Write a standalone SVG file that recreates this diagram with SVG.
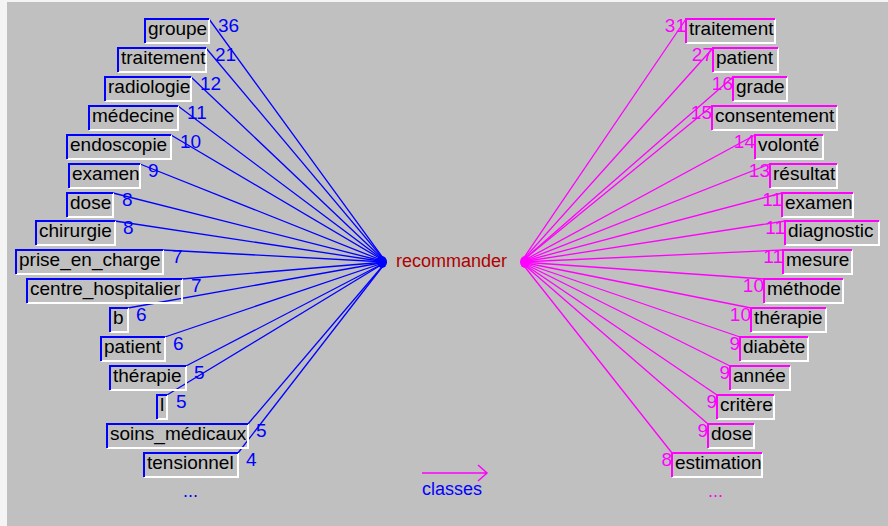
<svg xmlns="http://www.w3.org/2000/svg" width="888" height="526" viewBox="0 0 888 526">
<style>
.lbl{font-family:"Liberation Sans",Arial,sans-serif;font-size:19px;fill:#000}
.numL{font-family:"Liberation Sans",Arial,sans-serif;font-size:19px;fill:#0000ff}
.numR{font-family:"Liberation Sans",Arial,sans-serif;font-size:19px;fill:#ff00ff;text-anchor:end}
.hi{fill:none;stroke:#ffffff;stroke-width:2}
.bl{fill:none;stroke:#0000ff;stroke-width:2}
.mg{fill:none;stroke:#ff00ff;stroke-width:2}
.cb line{stroke:#0000ff;stroke-width:1.3}
.cm line{stroke:#ff00ff;stroke-width:1.3}
</style>
<rect x="0" y="0" width="888" height="526" fill="#f4f4f4"/>
<rect x="7" y="2" width="881" height="524" fill="#c0c0c0"/>

<g id="connectors">
<g class="cb">
<line x1="209" y1="19" x2="386" y2="262"/>
<line x1="206" y1="48" x2="386" y2="262"/>
<line x1="191" y1="77" x2="386" y2="262"/>
<line x1="178" y1="106" x2="386" y2="262"/>
<line x1="171" y1="135" x2="386" y2="262"/>
<line x1="140" y1="164" x2="386" y2="262"/>
<line x1="113" y1="193" x2="386" y2="262"/>
<line x1="115" y1="221" x2="386" y2="262"/>
<line x1="163" y1="250" x2="386" y2="262"/>
<line x1="182" y1="279" x2="386" y2="262"/>
<line x1="128" y1="308" x2="386" y2="262"/>
<line x1="165" y1="337" x2="386" y2="262"/>
<line x1="186" y1="366" x2="386" y2="262"/>
<line x1="167" y1="395" x2="386" y2="262"/>
<line x1="248" y1="424" x2="386" y2="262"/>
<line x1="238" y1="453" x2="386" y2="262"/>
</g>
<ellipse cx="382" cy="262" rx="5" ry="6" fill="#0000ff"/>
<g class="cm">
<line x1="686" y1="19" x2="521" y2="262"/>
<line x1="713" y1="48" x2="521" y2="262"/>
<line x1="733" y1="77" x2="521" y2="262"/>
<line x1="712" y1="106" x2="521" y2="262"/>
<line x1="755" y1="135" x2="521" y2="262"/>
<line x1="770" y1="164" x2="521" y2="262"/>
<line x1="782" y1="193" x2="521" y2="262"/>
<line x1="785" y1="221" x2="521" y2="262"/>
<line x1="783" y1="250" x2="521" y2="262"/>
<line x1="764" y1="279" x2="521" y2="262"/>
<line x1="751" y1="308" x2="521" y2="262"/>
<line x1="740" y1="337" x2="521" y2="262"/>
<line x1="730" y1="366" x2="521" y2="262"/>
<line x1="717" y1="395" x2="521" y2="262"/>
<line x1="708" y1="424" x2="521" y2="262"/>
<line x1="672" y1="453" x2="521" y2="262"/>
</g>
<ellipse cx="525" cy="262" rx="5" ry="6" fill="#ff00ff"/>
</g>

<g id="center">
<text x="396" y="267" style="font-family:'Liberation Sans',Arial,sans-serif;font-size:18px;fill:#b00000">recommander</text>
</g>

<!-- left nodes -->
<g id="L1"><path class="hi" d="M209 19V43H145"/><path class="bl" d="M145 43V19H209"/><text class="lbl" x="148" y="35">groupe</text><text class="numL" x="218" y="32">36</text></g>
<g id="L2"><path class="hi" d="M206 48V72H118"/><path class="bl" d="M118 72V48H206"/><text class="lbl" x="121" y="64">traitement</text><text class="numL" x="215" y="61">21</text></g>
<g id="L3"><path class="hi" d="M191 77V101H105"/><path class="bl" d="M105 101V77H191"/><text class="lbl" x="108" y="93">radiologie</text><text class="numL" x="200" y="90">12</text></g>
<g id="L4"><path class="hi" d="M178 106V130H89"/><path class="bl" d="M89 130V106H178"/><text class="lbl" x="92" y="122">médecine</text><text class="numL" x="187" y="119">11</text></g>
<g id="L5"><path class="hi" d="M171 135V159H67"/><path class="bl" d="M67 159V135H171"/><text class="lbl" x="70" y="151">endoscopie</text><text class="numL" x="180" y="148">10</text></g>
<g id="L6"><path class="hi" d="M140 164V188H69"/><path class="bl" d="M69 188V164H140"/><text class="lbl" x="72" y="180">examen</text><text class="numL" x="148" y="177">9</text></g>
<g id="L7"><path class="hi" d="M113 193V217H67"/><path class="bl" d="M67 217V193H113"/><text class="lbl" x="70" y="209">dose</text><text class="numL" x="122" y="206">8</text></g>
<g id="L8"><path class="hi" d="M115 221V245H36"/><path class="bl" d="M36 245V221H115"/><text class="lbl" x="39" y="237">chirurgie</text><text class="numL" x="123" y="234">8</text></g>
<g id="L9"><path class="hi" d="M163 250V274H16"/><path class="bl" d="M16 274V250H163"/><text class="lbl" x="19" y="266">prise_en_charge</text><text class="numL" x="172" y="263">7</text></g>
<g id="L10"><path class="hi" d="M182 279V303H27"/><path class="bl" d="M27 303V279H182"/><text class="lbl" x="30" y="295">centre_hospitalier</text><text class="numL" x="191" y="292">7</text></g>
<g id="L11"><path class="hi" d="M128 308V332H110"/><path class="bl" d="M110 332V308H128"/><text class="lbl" x="113" y="324">b</text><text class="numL" x="136" y="321">6</text></g>
<g id="L12"><path class="hi" d="M165 337V361H101"/><path class="bl" d="M101 361V337H165"/><text class="lbl" x="104" y="353">patient</text><text class="numL" x="173" y="350">6</text></g>
<g id="L13"><path class="hi" d="M186 366V390H110"/><path class="bl" d="M110 390V366H186"/><text class="lbl" x="113" y="382">thérapie</text><text class="numL" x="194" y="379">5</text></g>
<g id="L14"><path class="hi" d="M167 395V419H157"/><path class="bl" d="M157 419V395H167"/><text class="lbl" x="160" y="411">l</text><text class="numL" x="176" y="408">5</text></g>
<g id="L15"><path class="hi" d="M248 424V448H107"/><path class="bl" d="M107 448V424H248"/><text class="lbl" x="110" y="440">soins_médicaux</text><text class="numL" x="256" y="437">5</text></g>
<g id="L16"><path class="hi" d="M238 453V477H144"/><path class="bl" d="M144 477V453H238"/><text class="lbl" x="147" y="469">tensionnel</text><text class="numL" x="246" y="466">4</text></g>

<!-- right nodes -->
<g id="R1"><path class="hi" d="M775 19V43H686"/><path class="mg" d="M686 43V19H775"/><text class="lbl" x="689" y="35">traitement</text><text class="numR" x="686" y="32">31</text></g>
<g id="R2"><path class="hi" d="M778 48V72H713"/><path class="mg" d="M713 72V48H778"/><text class="lbl" x="716" y="64">patient</text><text class="numR" x="713" y="61">27</text></g>
<g id="R3"><path class="hi" d="M787 77V101H733"/><path class="mg" d="M733 101V77H787"/><text class="lbl" x="736" y="93">grade</text><text class="numR" x="733" y="90">16</text></g>
<g id="R4"><path class="hi" d="M837 106V130H712"/><path class="mg" d="M712 130V106H837"/><text class="lbl" x="715" y="122">consentement</text><text class="numR" x="712" y="119">15</text></g>
<g id="R5"><path class="hi" d="M823 135V159H755"/><path class="mg" d="M755 159V135H823"/><text class="lbl" x="758" y="151">volonté</text><text class="numR" x="755" y="148">14</text></g>
<g id="R6"><path class="hi" d="M837 164V188H770"/><path class="mg" d="M770 188V164H837"/><text class="lbl" x="773" y="180">résultat</text><text class="numR" x="770" y="177">13</text></g>
<g id="R7"><path class="hi" d="M853 193V217H782"/><path class="mg" d="M782 217V193H853"/><text class="lbl" x="785" y="209">examen</text><text class="numR" x="782" y="206">11</text></g>
<g id="R8"><path class="hi" d="M879 221V245H785"/><path class="mg" d="M785 245V221H879"/><text class="lbl" x="788" y="237">diagnostic</text><text class="numR" x="785" y="234">11</text></g>
<g id="R9"><path class="hi" d="M852 250V274H783"/><path class="mg" d="M783 274V250H852"/><text class="lbl" x="786" y="266">mesure</text><text class="numR" x="783" y="263">11</text></g>
<g id="R10"><path class="hi" d="M843 279V303H764"/><path class="mg" d="M764 303V279H843"/><text class="lbl" x="767" y="295">méthode</text><text class="numR" x="764" y="292">10</text></g>
<g id="R11"><path class="hi" d="M826 308V332H751"/><path class="mg" d="M751 332V308H826"/><text class="lbl" x="754" y="324">thérapie</text><text class="numR" x="751" y="321">10</text></g>
<g id="R12"><path class="hi" d="M808 337V361H740"/><path class="mg" d="M740 361V337H808"/><text class="lbl" x="743" y="353">diabète</text><text class="numR" x="740" y="350">9</text></g>
<g id="R13"><path class="hi" d="M790 366V390H730"/><path class="mg" d="M730 390V366H790"/><text class="lbl" x="733" y="382">année</text><text class="numR" x="730" y="379">9</text></g>
<g id="R14"><path class="hi" d="M774 395V419H717"/><path class="mg" d="M717 419V395H774"/><text class="lbl" x="720" y="411">critère</text><text class="numR" x="717" y="408">9</text></g>
<g id="R15"><path class="hi" d="M754 424V448H708"/><path class="mg" d="M708 448V424H754"/><text class="lbl" x="711" y="440">dose</text><text class="numR" x="708" y="437">9</text></g>
<g id="R16"><path class="hi" d="M762 453V477H672"/><path class="mg" d="M672 477V453H762"/><text class="lbl" x="675" y="469">estimation</text><text class="numR" x="672" y="466">8</text></g>

<g id="more-left"><text x="183" y="497" style="font-family:'Liberation Sans',Arial,sans-serif;font-size:18px;fill:#0000ff">...</text></g>
<g id="more-right"><text x="708" y="497" style="font-family:'Liberation Sans',Arial,sans-serif;font-size:18px;fill:#ff00ff">...</text></g>

<g id="legend">
<path d="M422 473H487M478 465L487 473L478 481" fill="none" stroke="#ff00ff" stroke-width="1.5"/>
<text x="422" y="495" style="font-family:'Liberation Sans',Arial,sans-serif;font-size:18px;fill:#0000ff">classes</text>
</g>
</svg>
